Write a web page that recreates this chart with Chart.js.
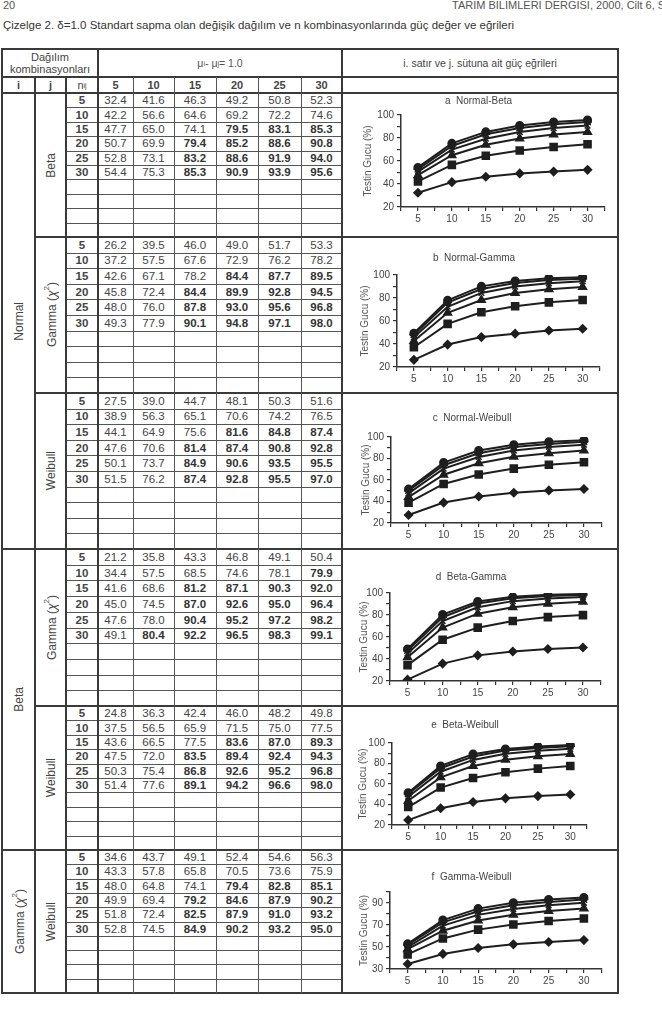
<!DOCTYPE html>
<html>
<head>
<meta charset="utf-8">
<script src="https://cdn.jsdelivr.net/npm/chart.js@4.4.0/dist/chart.umd.min.js"></script>
<style>
  body { margin: 0; width: 662px; height: 1031px; overflow: hidden; background: #fff; position: relative;
         font-family: 'Liberation Sans', Arial, sans-serif; color: #333; }
  .t { position: absolute; white-space: nowrap; }
  .ln { position: absolute; background: #3a3a3a; }
  .cell { position: absolute; display: flex; align-items: center; justify-content: center; font-size: 11.5px; white-space: nowrap; color: #444; }
  .vt { writing-mode: vertical-rl; transform: rotate(180deg); font-size: 12px; }
  .box { position: absolute; }
</style>
</head>
<body>
<div class="t" style="left:3px;top:-1px;font-size:11px;color:#555">20</div>
<div class="t" style="left:452px;top:-1px;font-size:11px;color:#555">TARIM BİLİMLERİ DERGİSİ, 2000, Cilt 6, Sayı 2</div>
<div class="t" style="left:3px;top:19px;font-size:11.5px">Çizelge 2. δ=1.0 Standart sapma olan değişik dağılım ve n kombinasyonlarında güç değer ve eğrileri</div>

<script>
// sample sizes (n_i rows, n_j columns)
const nValues = [5, 10, 15, 20, 25, 30];

// power values (%) for each distribution pair, one row per n_i
const normalBeta = [
  [32.4, 41.6, 46.3, 49.2, 50.8, 52.3],
  [42.2, 56.6, 64.6, 69.2, 72.2, 74.6],
  [47.7, 65.0, 74.1, 79.5, 83.1, 85.3],
  [50.7, 69.9, 79.4, 85.2, 88.6, 90.8],
  [52.8, 73.1, 83.2, 88.6, 91.9, 94.0],
  [54.4, 75.3, 85.3, 90.9, 93.9, 95.6]
];
const normalGamma = [
  [26.2, 39.5, 46.0, 49.0, 51.7, 53.3],
  [37.2, 57.5, 67.6, 72.9, 76.2, 78.2],
  [42.6, 67.1, 78.2, 84.4, 87.7, 89.5],
  [45.8, 72.4, 84.4, 89.9, 92.8, 94.5],
  [48.0, 76.0, 87.8, 93.0, 95.6, 96.8],
  [49.3, 77.9, 90.1, 94.8, 97.1, 98.0]
];
const normalWeibull = [
  [27.5, 39.0, 44.7, 48.1, 50.3, 51.6],
  [38.9, 56.3, 65.1, 70.6, 74.2, 76.5],
  [44.1, 64.9, 75.6, 81.6, 84.8, 87.4],
  [47.6, 70.6, 81.4, 87.4, 90.8, 92.8],
  [50.1, 73.7, 84.9, 90.6, 93.5, 95.5],
  [51.5, 76.2, 87.4, 92.8, 95.5, 97.0]
];
const betaGamma = [
  [21.2, 35.8, 43.3, 46.8, 49.1, 50.4],
  [34.4, 57.5, 68.5, 74.6, 78.1, 79.9],
  [41.6, 68.6, 81.2, 87.1, 90.3, 92.0],
  [45.0, 74.5, 87.0, 92.6, 95.0, 96.4],
  [47.6, 78.0, 90.4, 95.2, 97.2, 98.2],
  [49.1, 80.4, 92.2, 96.5, 98.3, 99.1]
];
const betaWeibull = [
  [24.8, 36.3, 42.4, 46.0, 48.2, 49.8],
  [37.5, 56.5, 65.9, 71.5, 75.0, 77.5],
  [43.6, 66.5, 77.5, 83.6, 87.0, 89.3],
  [47.5, 72.0, 83.5, 89.4, 92.4, 94.3],
  [50.3, 75.4, 86.8, 92.6, 95.2, 96.8],
  [51.4, 77.6, 89.1, 94.2, 96.6, 98.0]
];
const gammaWeibull = [
  [34.6, 43.7, 49.1, 52.4, 54.6, 56.3],
  [43.3, 57.8, 65.8, 70.5, 73.6, 75.9],
  [48.0, 64.8, 74.1, 79.4, 82.8, 85.1],
  [49.9, 69.4, 79.2, 84.6, 87.9, 90.2],
  [51.8, 72.4, 82.5, 87.9, 91.0, 93.2],
  [52.8, 74.5, 84.9, 90.2, 93.2, 95.0]
];

const gammaLbl = 'Gamma (<i>χ</i><sup style="font-size:8px">2</sup>)';
const blocks = [normalBeta, normalGamma, normalWeibull, betaGamma, betaWeibull, gammaWeibull];
const jLabels = ['Beta', gammaLbl, 'Weibull', gammaLbl, 'Weibull', 'Weibull'];
const chartTitles = ['a  Normal-Beta', 'b  Normal-Gamma', 'c  Normal-Weibull',
                     'd  Beta-Gamma', 'e  Beta-Weibull', 'f  Gamma-Weibull'];
const yMins = [20, 20, 20, 20, 20, 30];

// table layout
const colX = [2, 35, 66, 98, 133, 174, 216, 258, 301, 342, 618];
const blockTop = [93, 237, 393, 549, 706, 850, 993];

const body = document.body;
function line(x, y, w, h, c) {
  const d = document.createElement('div');
  d.className = 'ln';
  d.style.cssText = `left:${x}px;top:${y}px;width:${w}px;height:${h}px;` + (c ? `background:${c}` : '');
  body.appendChild(d);
}
function cell(x0, y0, x1, y1, html, style) {
  const d = document.createElement('div');
  d.className = 'cell';
  d.style.cssText = `left:${x0}px;top:${y0}px;width:${x1 - x0}px;height:${y1 - y0}px;` + (style || '');
  d.innerHTML = html;
  body.appendChild(d);
}

// header
cell(2, 49, 98, 77, '<div style="text-align:center;line-height:12px;font-size:11px">Dağılım<br>kombinasyonları</div>');
cell(98, 49, 342, 77, 'μ<sub style="font-size:7px">i</sub> - μ<sub style="font-size:7px">j</sub> = 1.0', 'font-size:10.5px;color:#555');
cell(342, 49, 618, 77, 'i. satır ve j. sütuna ait güç eğrileri', 'font-size:10.5px');
cell(2, 77, 35, 93, 'i', 'font-weight:bold;font-size:11px');
cell(35, 77, 66, 93, 'j', 'font-weight:bold;font-size:11px');
cell(66, 77, 98, 93, 'n<sub style="font-size:7px">ij</sub>', 'font-size:11px');
nValues.forEach((n, k) => cell(colX[k + 3], 77, colX[k + 4], 93, n, 'font-weight:bold;font-size:11px'));

// body cells
blocks.forEach((rows, b) => {
  const y0 = blockTop[b], y1 = blockTop[b + 1], h = (y1 - y0) / 10;
  cell(35, y0, 66, y1, `<span class="vt">${jLabels[b]}</span>`);
  rows.forEach((r, i) => {
    const ty = y0 + i * h;
    cell(66, ty, 98, ty + h, nValues[i], 'font-weight:bold');
    r.forEach((v, j) => cell(colX[j + 3], ty, colX[j + 4], ty + h, v.toFixed(1), v >= 79 ? 'font-weight:bold;color:#333' : ''));
  });
  for (let i = 1; i < 10; i++) line(66, Math.round(y0 + i * h), 276, 1, '#555');
});
cell(2, 93, 35, 549, '<span class="vt">Normal</span>');
cell(2, 549, 35, 850, '<span class="vt">Beta</span>');
cell(2, 850, 35, 993, `<span class="vt">${gammaLbl}</span>`);

// grid lines
line(2, 48, 617, 2); line(2, 76, 617, 2); line(2, 92, 617, 2);
[237, 393, 706].forEach(y => line(35, y - 1, 584, 2));
[549, 850].forEach(y => line(2, y - 1, 617, 2));
line(2, 992, 617, 2);
line(1, 48, 2, 946); line(617, 48, 2, 946);
line(34, 77, 1.5, 916); line(65, 77, 1.5, 916);
line(97, 48, 2, 946); line(341, 48, 2, 946);
[133, 174, 216, 258, 301].forEach(x => line(x, 77, 1, 916, '#555'));

// chart geometry: [titleY, plotTop, plotBottom, plotLeft, plotRight, yTitleX]
const geo = [
  [101, 115, 207, 401, 608, 368],
  [258, 275, 367, 397, 603, 365],
  [418, 437, 523, 391, 605, 366],
  [577, 593, 681, 390, 604, 364],
  [725, 743, 825, 392, 590, 363],
  [877, 892, 969, 390, 605, 364]
];
const markers = ['rectRot', 'rect', 'triangle', 'crossRot', 'star', 'circle'];
const radii = [4, 5, 4.5, 4, 4.5, 3.8];
const ink = '#1e1e1e';
const font = { family: "'Liberation Sans', Arial, sans-serif", size: 10 };

blocks.forEach((rows, b) => {
  const [ty, pt, pb, pl, pr, yt] = geo[b];
  const left = pl - 52, top = ty - 10;
  const box = document.createElement('div');
  box.className = 'box';
  box.style.cssText = `left:${left}px;top:${top}px;width:${pr + 3 - left}px;height:${pb + 22 - top}px`;
  const cv = document.createElement('canvas');
  box.appendChild(cv);
  body.appendChild(box);
  const yMin = yMins[b];

  new Chart(cv, {
    type: 'line',
    data: {
      datasets: rows.map((r, k) => ({
        label: 'n = ' + nValues[k],
        data: nValues.map((x, j) => ({ x: x, y: r[j] })),
        borderColor: ink,
        backgroundColor: ink,
        borderWidth: 2,
        pointStyle: markers[k],
        pointRadius: radii[k],
        pointBorderWidth: 1.5
      }))
    },
    options: {
      animation: false,
      responsive: true,
      maintainAspectRatio: false,
      layout: { padding: { right: 3 } },
      plugins: {
        legend: { display: false },
        tooltip: { enabled: false },
        title: { display: true, text: chartTitles[b], color: '#444',
                 font: { family: font.family, size: 10, weight: 'normal' },
                 padding: { top: 4, bottom: pt - top - 16 } }
      },
      scales: {
        x: {
          type: 'linear', min: 2.5, max: 32.5,
          afterFit: s => { s.height = 22; },
          ticks: { stepSize: 2.5, autoSkip: false, maxRotation: 0, color: '#444', font: font, padding: 2,
                   callback: v => (v % 5 === 0 ? v : '') },
          grid: { drawOnChartArea: false, tickLength: 4, color: '#333', lineWidth: 1.2 },
          border: { color: '#333', width: 1.5 }
        },
        y: {
          min: yMin, max: 100,
          afterFit: s => { s.width = 52; },
          ticks: { stepSize: 10, autoSkip: false, color: '#444', font: font, padding: 3,
                   callback: v => ((v - yMin) % 20 === 0 ? v : '') },
          grid: { drawOnChartArea: false, tickLength: 4, color: '#333', lineWidth: 1.2 },
          border: { color: '#333', width: 1.5 },
          title: { display: true, text: 'Testin Gucu (%)', color: '#555', font: font,
                   padding: { top: yt - left - 6, bottom: 0 } }
        }
      }
    }
  });
});
</script>
</body>
</html>
